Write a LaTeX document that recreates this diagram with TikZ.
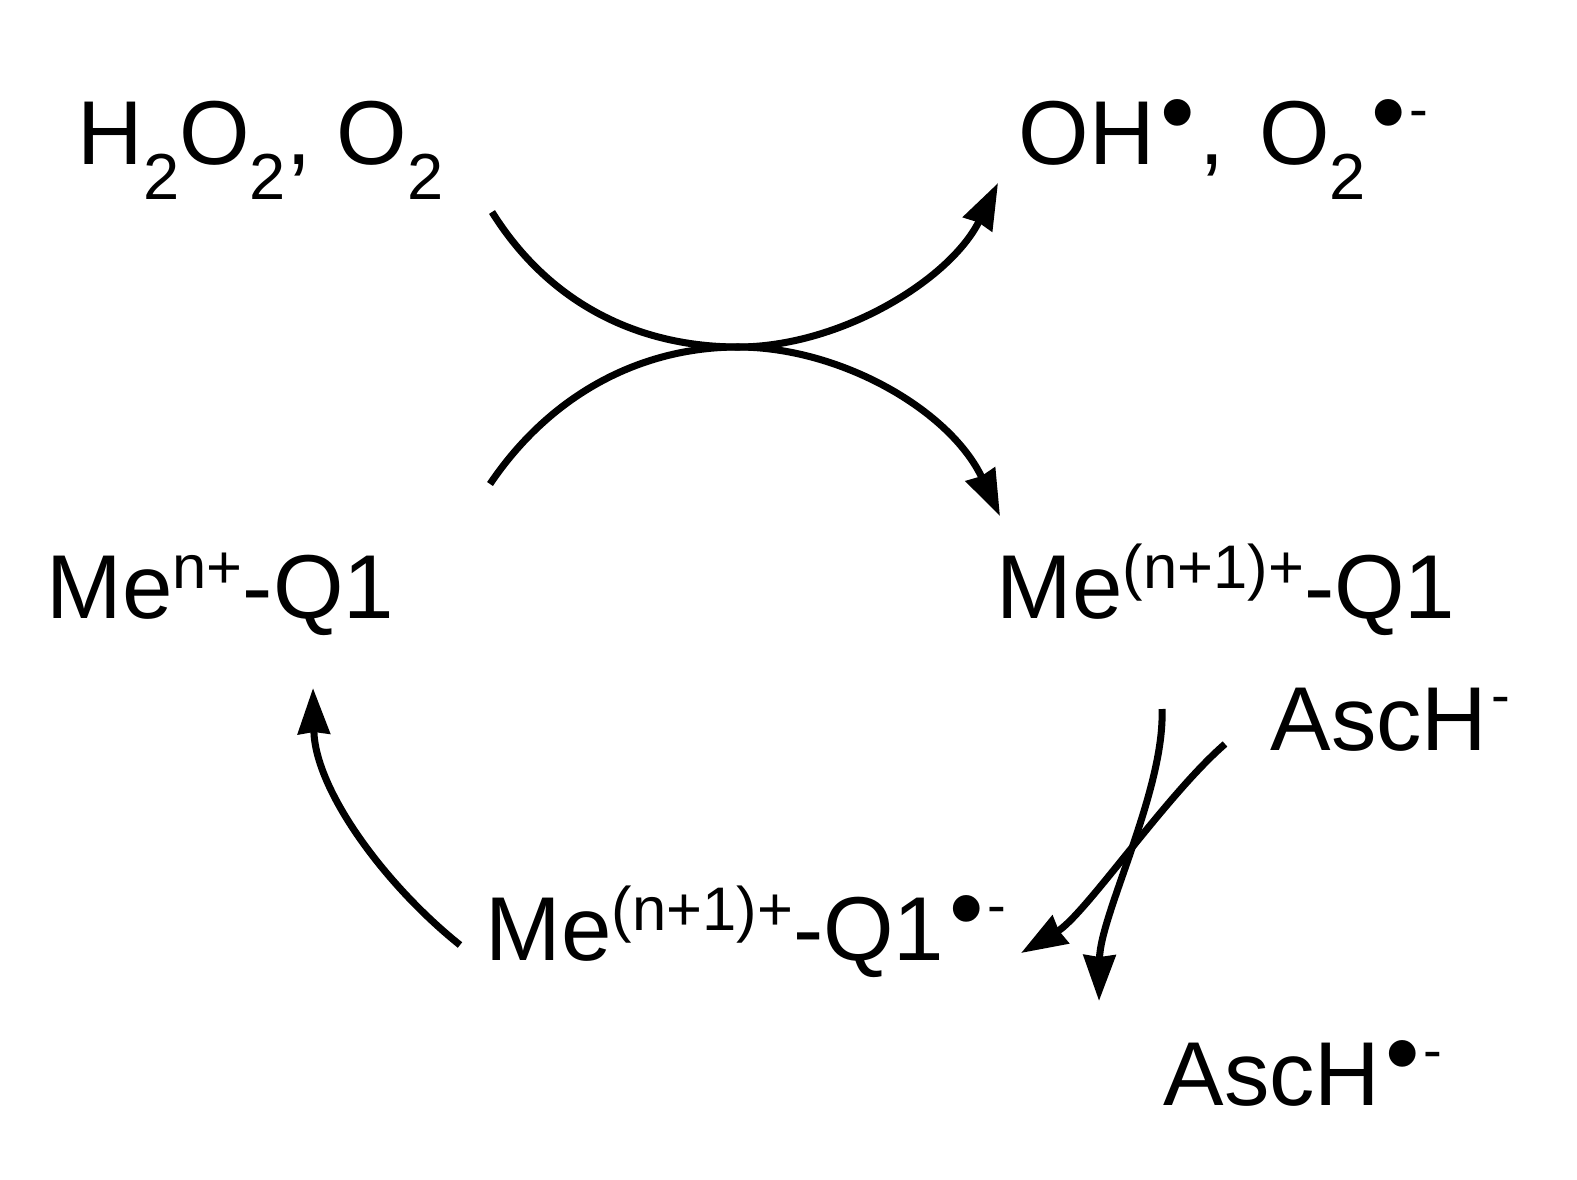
\documentclass[tikz,border=0pt]{standalone}
\usepackage{fontspec}
\setmainfont{Liberation Sans}
\usepackage{tikz}
\usetikzlibrary{arrows.meta}
\newcommand{\lowtxt}[1]{\raisebox{-10pt}{\fontsize{18.5}{19}\selectfont #1}}
\newcommand{\hightxt}[1]{\raisebox{8.5pt}{\fontsize{17.5}{18}\selectfont #1}}
\newcommand{\radtxt}{\hspace{1.5pt}\raisebox{5.4pt}{\fontsize{28}{28}\selectfont\textbullet}}
\newcommand{\chargetxt}{\hspace{1pt}\raisebox{10pt}{\fontsize{16}{16}\selectfont -}}
\tikzset{species/.style={inner sep=0pt,anchor=base west,font=\fontsize{25.8}{30}\selectfont},
         curve/.style={line width=2pt}}
\begin{document}
\begin{tikzpicture}[>={Stealth[length=13pt,width=9pt,inset=.5pt]},x=.01cm,y=-.01cm]
     \useasboundingbox (0,0) rectangle (1577,1179);
     \node[species] (peroxide) at (77,164) {H\lowtxt{2}O\lowtxt{2}, O\lowtxt{2}};
     \node[species] (radicals) at (1018,164) {OH\radtxt\hspace{1.5pt}, \hspace{2.5pt}O\lowtxt{2}\radtxt\chargetxt};
     \node[species] (reduced) at (46,618) {Me\hightxt{n+}-Q1};
     \node[species] (oxidized) at (996,618) {Me\hightxt{(n+1)+}-Q1};
     \node[species] (quinone) at (485,960) {Me\hightxt{(n+1)+}-Q1\radtxt\chargetxt};
     \node[species] (asch) at (1270,750) {AscH\chargetxt};
     \node[species] (aschrad) at (1163,1105) {AscH\radtxt\chargetxt};
     \coordinate (top1) at (492,212);
     \coordinate (top2) at (490,484);
     \coordinate (tip1) at (998,183);
     \coordinate (tip2) at (1000,516);
     \coordinate (mid) at (738,347);
     \coordinate (bot1) at (1162,709);
     \coordinate (bot2) at (1225,744);
     \coordinate (tip3) at (1099,1001);
     \coordinate (tip4) at (1021,953);
     \coordinate (left1) at (460,945);
     \coordinate (tip5) at (313,688);
     \draw[curve] (top1) .. controls (550,305) and (640,347) .. (mid);
     \draw[curve,->] (mid) .. controls (840,347) and (950,280) .. (tip1);
     \draw[curve] (top2) .. controls (550,395) and (640,347) .. (mid);
     \draw[curve,->] (mid) .. controls (840,347) and (950,410) .. (tip2);
     \draw[curve,->] (bot1) .. controls (1165,790) and (1100,915) .. (tip3);
     \draw[curve,->] (bot2) .. controls (1166,795) and (1085,915) .. (tip4);
     \draw[curve,->] (left1) .. controls (385,885) and (315,790) .. (tip5);
\end{tikzpicture}
\end{document}
